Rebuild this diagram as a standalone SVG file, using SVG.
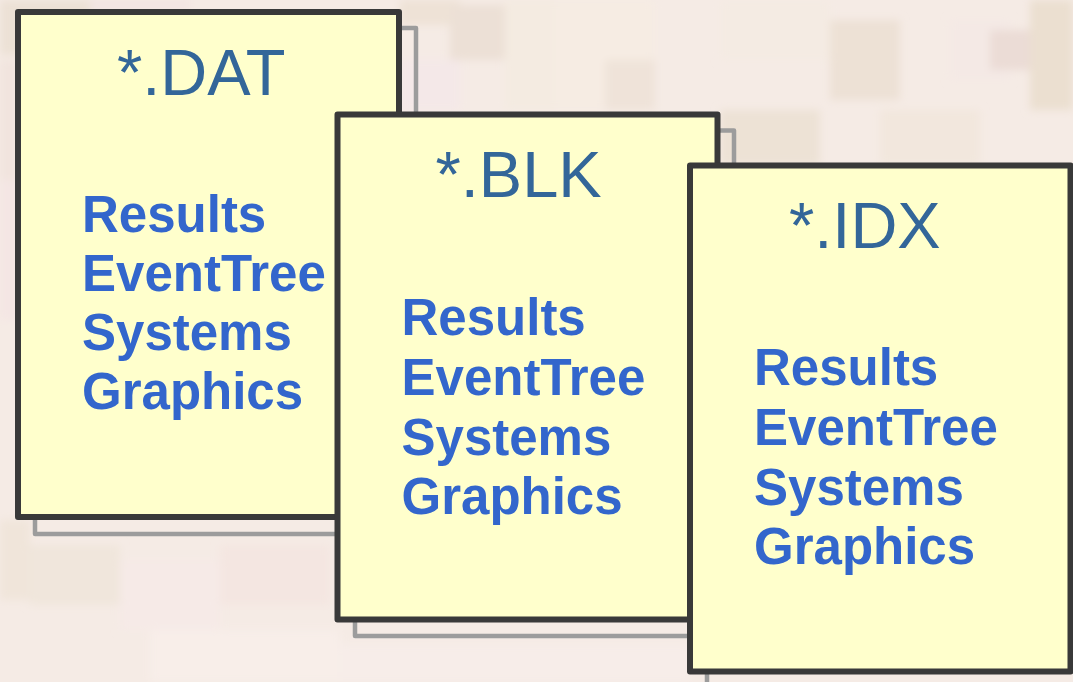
<svg xmlns="http://www.w3.org/2000/svg" width="1073" height="682" viewBox="0 0 1073 682">
  <style>
    .shadow { fill: none; stroke: #9c9c9c; stroke-width: 4.5; stroke-linejoin: round; }
    .card { fill: #ffffcc; stroke: #393939; stroke-width: 6; stroke-linejoin: round; }
    .title { font-family: "Liberation Sans", Arial, sans-serif; font-size: 65px; fill: #336699; }
    .item { font-family: "Liberation Sans", Arial, sans-serif; font-size: 51px; font-weight: bold; fill: #3366cc; }
  </style>
  <defs>
    <filter id="soft" x="-5%" y="-5%" width="110%" height="110%">
      <feGaussianBlur stdDeviation="4"/>
    </filter>
  </defs>

  <!-- mottled paper backdrop -->
  <rect x="0" y="0" width="1073" height="682" fill="#f5ebe5"/>
  <g id="backdrop" filter="url(#soft)">
    <rect x="0" y="0" width="90" height="55" fill="#ece1d5"/>
    <rect x="90" y="0" width="100" height="10" fill="#f2e4e2"/>
    <rect x="400" y="0" width="60" height="25" fill="#eee2d6"/>
    <rect x="450" y="5" width="60" height="55" fill="#ece0d6"/>
    <rect x="505" y="0" width="50" height="110" fill="#f4ebe1"/>
    <rect x="400" y="60" width="60" height="50" fill="#f4e8e8"/>
    <rect x="555" y="0" width="100" height="110" fill="#f6ece3"/>
    <rect x="605" y="60" width="50" height="50" fill="#efe3d9"/>
    <rect x="720" y="110" width="100" height="55" fill="#ede2d5"/>
    <rect x="720" y="0" width="110" height="60" fill="#f4ebe3"/>
    <rect x="830" y="20" width="70" height="80" fill="#ede1d5"/>
    <rect x="880" y="110" width="100" height="55" fill="#f2e7dd"/>
    <rect x="950" y="20" width="60" height="60" fill="#f4e9e5"/>
    <rect x="990" y="30" width="40" height="40" fill="#ebdcd6"/>
    <rect x="1030" y="0" width="43" height="110" fill="#ebdfd0"/>
    <rect x="0" y="60" width="18" height="120" fill="#f1e4de"/>
    <rect x="0" y="180" width="18" height="140" fill="#f4e6e4"/>
    <rect x="0" y="520" width="30" height="80" fill="#f0e5da"/>
    <rect x="30" y="545" width="90" height="60" fill="#f0e6dc"/>
    <rect x="120" y="560" width="100" height="70" fill="#f6eae7"/>
    <rect x="220" y="545" width="110" height="60" fill="#f4e6e1"/>
    <rect x="150" y="630" width="190" height="52" fill="#f8eee9"/>
    <rect x="340" y="645" width="350" height="37" fill="#f7ede9"/>
  </g>

  <!-- *.DAT file card -->
  <g id="dat">
    <rect class="shadow" x="35" y="28" width="381" height="506"/>
    <rect class="card" x="18" y="12" width="381" height="505"/>
    <text class="title" x="117" y="95">*.DAT</text>
    <text class="item" x="82" y="232">Results</text>
    <text class="item" x="82" y="291">EventTree</text>
    <text class="item" x="82" y="350">Systems</text>
    <text class="item" x="82" y="409">Graphics</text>
  </g>

  <!-- *.BLK file card -->
  <g id="blk">
    <rect class="shadow" x="355" y="130.5" width="379" height="505.5"/>
    <rect class="card" x="337.5" y="114.5" width="380" height="505"/>
    <text class="title" x="435.5" y="197">*.BLK</text>
    <text class="item" x="401.5" y="335">Results</text>
    <text class="item" x="401.5" y="395">EventTree</text>
    <text class="item" x="401.5" y="455">Systems</text>
    <text class="item" x="401.5" y="514">Graphics</text>
  </g>

  <!-- *.IDX file card -->
  <g id="idx">
    <rect class="shadow" x="707" y="182" width="380" height="506"/>
    <rect class="card" x="690" y="165.5" width="380.5" height="506"/>
    <text class="title" x="789" y="248">*.IDX</text>
    <text class="item" x="754" y="385">Results</text>
    <text class="item" x="754" y="445">EventTree</text>
    <text class="item" x="754" y="505">Systems</text>
    <text class="item" x="754" y="564">Graphics</text>
  </g>

  <!-- no connectors between the cards -->
  <g id="connectors"/>
</svg>
